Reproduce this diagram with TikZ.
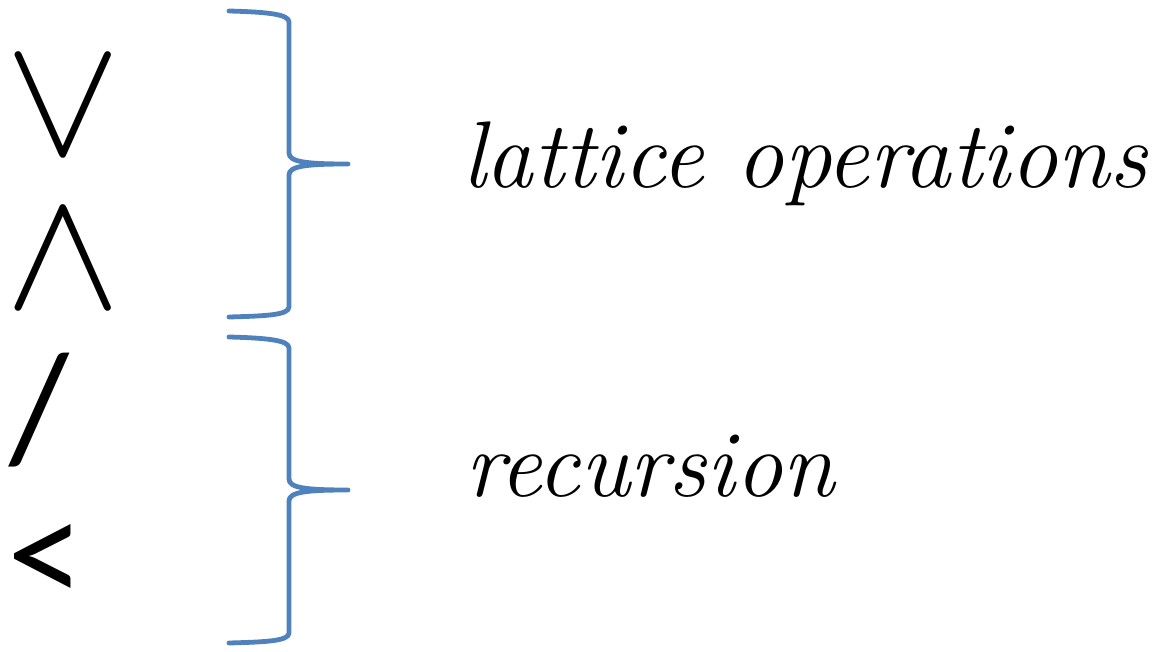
\documentclass[tikz,border=0pt]{standalone}
\usepackage{fontspec}
\newfontfamily\symfont{Carlito}
\definecolor{braceblue}{HTML}{4F81BD}
\tikzset{
    brace/.style={draw=braceblue,line width=3.6pt,line cap=round,line join=round},
    opsym/.style={inner sep=0pt,font=\symfont\fontsize{116}{116}\selectfont},
    latsym/.style={inner sep=0pt}
}
\tikzset{label/.style={inner sep=0pt,font=\itshape\fontsize{71}{71}\selectfont,anchor=base west}}
\newcommand{\bigop}[1]{\scalebox{13}[12.9]{\(#1\)}}

\begin{document}
\begin{tikzpicture}[x=0.75pt,y=-0.75pt]
    \useasboundingbox (0,0) rectangle (1158,652);

    \node[latsym] (join) at (63,107) {\bigop{\vee}};
    \node[latsym] (meet) at (63,260) {\bigop{\wedge}};
    \node[opsym] (slash) at (39,410) {/};
    \node[opsym] (less) at (46,565) {<};

    \foreach \dy in {0,326}{
        \begin{scope}[shift={(0,\dy)}]
            \draw[brace] (229,11) .. controls (266,12) and (289,14) .. (289,22)
                -- (289,153) .. controls (289,162) and (306,164) .. (348,164)
                .. controls (306,164) and (289,166) .. (289,175)
                -- (289,307) .. controls (289,315) and (266,316) .. (229,317);
        \end{scope}
    }

    \node[label] (lattice) at (462,188) {lattice operations};
    \node[label] (recursion) at (465,497) {recursion};
\end{tikzpicture}
\end{document}
